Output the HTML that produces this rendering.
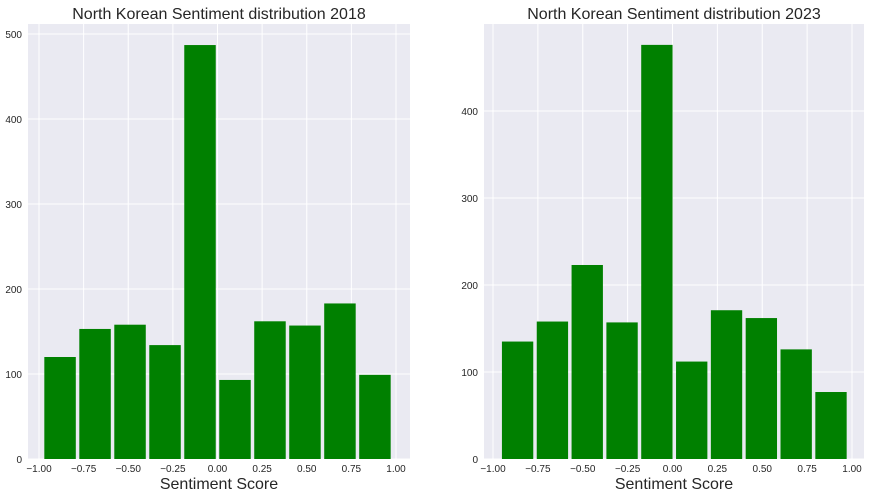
<!DOCTYPE html>
<html><head><meta charset="utf-8"><style>
body{margin:0;background:#fff;font-family:"Liberation Sans",sans-serif}
svg text{font-family:"Liberation Sans",sans-serif}
</style></head><body>
<svg id="s" width="871" height="498"></svg>
<script>
const xTicks=[-1,-0.75,-0.5,-0.25,0,0.25,0.5,0.75,1];
const xTickLabels=["\u22121.00","\u22120.75","\u22120.50","\u22120.25","0.00","0.25","0.50","0.75","1.00"];
const counts2018=[120,153,158,134,487,93,162,157,183,99];
const counts2023=[135,158,223,157,476,112,171,162,126,77];
const yTicks2018=[0,100,200,300,400,500];
const yTicks2023=[0,100,200,300,400];
const binRange2018=[-0.98,0.98];
const binRange2023=[-0.96,0.98];
const NS="http://www.w3.org/2000/svg";
const svg=document.getElementById('s');
function mk(t,a,p){const e=document.createElementNS(NS,t);for(const k in a)e.setAttribute(k,a[k]);(p||svg).appendChild(e);return e;}
function chart(o){
 const g=mk('g',{});
 
 
 const X=v=>o.x0+(v+1)*o.xs, Y=v=>o.yb-v*o.ys;
 const bg=mk('rect',{x:o.l,y:24,width:o.r-o.l,height:o.yb-24,fill:'#eaeaf2'},g);
 
 xTicks.forEach((t,i)=>{
  const ln=mk('line',{x1:X(t),x2:X(t),y1:24,y2:o.yb,stroke:'#fff','stroke-width':1},g);
  
  const tx=mk('text',{x:X(t),y:o.yb+13,'font-size':10,'text-anchor':'middle',fill:'#262626'},g);
  tx.textContent=xTickLabels[i];
  
 });
 o.yt.forEach(t=>{
  const ln=mk('line',{x1:o.l,x2:o.r,y1:Y(t),y2:Y(t),stroke:'#fff','stroke-width':1},g);
  
  const tx=mk('text',{x:o.l-6,y:Y(t)+4,'font-size':10,'text-anchor':'end',fill:'#262626'},g);
  tx.textContent=t;
  
 });
 const n=o.c.length, w=(o.br[1]-o.br[0])/n;
 o.c.forEach((v,i)=>{
  const a=o.br[0]+i*w, pad=w*0.05;
  const r=mk('rect',{x:X(a+pad),y:Y(v),width:X(a+w-pad)-X(a+pad),height:Y(0)-Y(v),fill:'#008000'},g);
  
 });
 const ti=mk('text',{x:(o.l+o.r)/2,y:19,'font-size':16,'text-anchor':'middle',fill:'#262626'},g);
 ti.textContent=o.title;
 const xl=mk('text',{x:(o.l+o.r)/2,y:489,'font-size':16,'text-anchor':'middle',fill:'#262626'},g);
 xl.textContent='Sentiment Score';
}
chart({name:'histogram-2018',l:28,r:410,x0:39,xs:178.5,yb:459,ys:0.85,yt:yTicks2018,c:counts2018,br:binRange2018,title:'North Korean Sentiment distribution 2018'});
chart({name:'histogram-2023',l:484,r:864,x0:493,xs:179.5,yb:459,ys:0.87,yt:yTicks2023,c:counts2023,br:binRange2023,title:'North Korean Sentiment distribution 2023'});
</script>
</body></html>
